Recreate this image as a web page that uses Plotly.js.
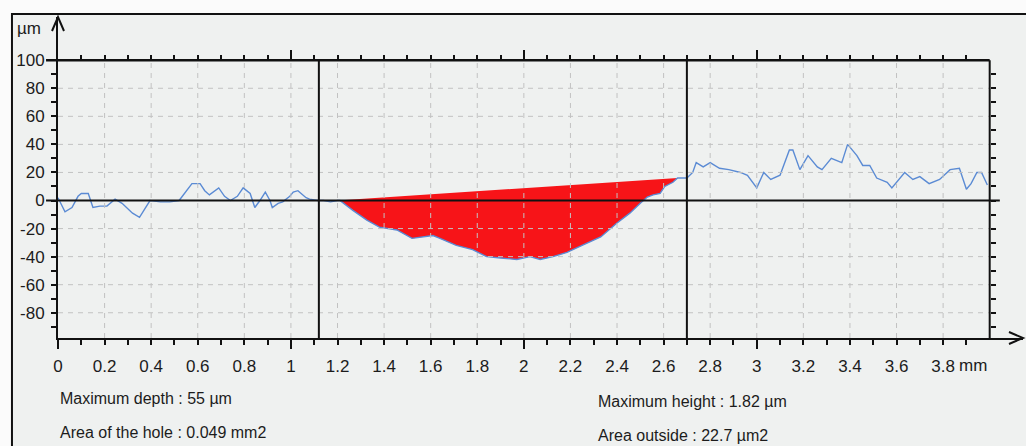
<!DOCTYPE html>
<html><head><meta charset="utf-8">
<script src="https://cdn.plot.ly/plotly-3.0.1.min.js"></script>
<style>html,body{margin:0;padding:0;background:#fbfbfb}</style>
</head><body><div id="chart" style="width:1026px;height:446px"></div>
<script>
// Profile left of the hole (mm, µm)
const leftX = [0, 0.03, 0.06, 0.086, 0.10, 0.13, 0.15, 0.18, 0.21, 0.245, 0.275, 0.30, 0.32, 0.35, 0.375, 0.395, 0.44, 0.48, 0.52, 0.55, 0.575, 0.61, 0.63, 0.65, 0.69, 0.715, 0.74, 0.77, 0.795, 0.825, 0.845, 0.867, 0.89, 0.91, 0.92, 0.945, 0.965, 0.995, 1.01, 1.03, 1.05, 1.065, 1.08, 1.115, 1.14, 1.17, 1.20];
const leftY = [2, -8, -5, 3, 5, 5, -5, -4, -4, 1, -2, -6, -9, -12, -5, 0, -1, -1, 0, 7, 12, 12, 7, 4, 9, 3, 0, 3, 9, 5, -5, 0, 6, 0, -5, -2, -1, 3, 6, 7, 4, 2, 1, 0, 0, -1, 0];
// Profile inside the hole
const holeX = [1.21, 1.266, 1.326, 1.38, 1.455, 1.52, 1.61, 1.64, 1.71, 1.78, 1.84, 1.90, 1.97, 2.026, 2.07, 2.125, 2.185, 2.25, 2.33, 2.40, 2.455, 2.50, 2.53, 2.555, 2.585, 2.605, 2.64, 2.66];
const holeY = [0, -7, -14, -19, -21, -27, -25, -27, -32, -35, -40, -41, -42, -40, -42, -40, -37, -32, -26, -16, -9, -2, 2.5, 4, 5, 10, 13, 16];
// Reference chord closing the hole
const chordX = [1.20, 2.66];
const chordY = [0, 16];
// Profile right of the hole
const rightX = [2.70, 2.725, 2.74, 2.77, 2.80, 2.84, 2.88, 2.93, 2.96, 3.00, 3.03, 3.06, 3.10, 3.14, 3.155, 3.185, 3.22, 3.26, 3.28, 3.32, 3.365, 3.39, 3.43, 3.455, 3.485, 3.515, 3.56, 3.58, 3.635, 3.67, 3.70, 3.74, 3.785, 3.83, 3.87, 3.90, 3.92, 3.945, 3.965, 3.99];
const rightY = [16, 20, 27, 24, 27, 23, 22, 20, 18, 9, 20, 15, 18, 36, 36, 22, 32, 24, 22, 30, 27, 40, 32, 25, 25, 16, 13, 9, 20, 15, 17, 12, 15, 22, 23, 8, 12, 20, 20, 11];
// Cursor positions (mm)
const cursorX = [1.12, 2.70];
// Tick labels
const xTickVals = [0, 0.2, 0.4, 0.6, 0.8, 1, 1.2, 1.4, 1.6, 1.8, 2, 2.2, 2.4, 2.6, 2.8, 3, 3.2, 3.4, 3.6, 3.8];
const xTickText = ['0', '0.2', '0.4', '0.6', '0.8', '1', '1.2', '1.4', '1.6', '1.8', '2', '2.2', '2.4', '2.6', '2.8', '3', '3.2', '3.4', '3.6', '3.8'];
const yTickVals = [-80, -60, -40, -20, 0, 20, 40, 60, 80, 100];
const yTickText = ['-80', '-60', '-40', '-20', '0', '20', '40', '60', '80', '100'];
const xUnit = 'mm';
const yUnit = 'µm';
const infoLeft = ['Maximum depth : 55 µm', 'Area of the hole : 0.049 mm2'];
const infoRight = ['Maximum height : 1.82 µm', 'Area outside : 22.7 µm2'];

// ---- layout geometry ----
const yMin = -98, yMax = 130.8, xMax = 4.143, borderX = 4.0, topY = 100;
const ink = '#111';
const tenths = [];
for (let i = 1; i < 40; i++) tenths.push(+(i / 10).toFixed(1));
const minorX = tenths.filter(v => Math.abs(v * 5 - Math.round(v * 5)) > 1e-6);
const topMinor = tenths.filter(v => Math.abs(v - Math.round(v)) > 1e-6);
const minorY = [];
for (let v = -90; v < 100; v += 20) minorY.push(v);
const rightTicks = [];
for (let v = -90; v < 100; v += 10) rightTicks.push(v);

const profX = leftX.concat(holeX, rightX);
const profY = leftY.concat(holeY, rightY);
const fillX = [chordX[0]].concat(holeX, [chordX[1]]);
const fillY = [chordY[0]].concat(holeY, [chordY[1]]);

const traces = [
  {x: fillX, y: fillY, type: 'scatter', mode: 'lines', fill: 'toself', fillcolor: '#f71418', line: {width: 0, color: '#f71418'}, hoverinfo: 'skip'},
  {x: profX, y: profY, type: 'scatter', mode: 'lines', line: {color: '#5b8bd4', width: 1.4}, hoverinfo: 'skip'},
  {x: [null], y: [null], xaxis: 'x2', yaxis: 'y2', type: 'scatter', mode: 'lines', hoverinfo: 'skip'},
  {x: [null], y: [null], xaxis: 'x3', yaxis: 'y', type: 'scatter', mode: 'lines', hoverinfo: 'skip'}
];

const shapes = [];
// panel frame
shapes.push({type: 'rect', xref: 'paper', yref: 'paper', x0: -0.0477, x1: 1.03, y0: -0.4, y1: 1.0093, layer: 'below', fillcolor: '#eff1f0', line: {color: '#111', width: 2}});
// dashed grid
const gridLine = {color: '#c2c2c2', width: 1, dash: '5px,5px'};
xTickVals.filter(v => v > 0).forEach(v => shapes.push({type: 'line', xref: 'x', yref: 'y', x0: v, x1: v, y0: yMin, y1: topY, line: gridLine, layer: 'above'}));
yTickVals.filter(v => v !== 0 && v < topY).forEach(v => shapes.push({type: 'line', xref: 'x', yref: 'y', x0: 0, x1: borderX, y0: v, y1: v, line: gridLine, layer: 'above'}));
// top border and zero line (extend left of axis like long ticks)
shapes.push({type: 'line', xref: 'paper', yref: 'y', x0: -0.0124, x1: borderX / xMax, y0: topY, y1: topY, line: {color: ink, width: 2.5}});
shapes.push({type: 'line', xref: 'paper', yref: 'y', x0: -0.0124, x1: 0.976, y0: 0, y1: 0, line: {color: ink, width: 2}});
// right border
shapes.push({type: 'line', xref: 'x', yref: 'y', x0: borderX, x1: borderX, y0: yMin, y1: topY, line: {color: ink, width: 2}});
// cursors
cursorX.forEach(c => shapes.push({type: 'line', xref: 'x', yref: 'y', x0: c, x1: c, y0: yMin, y1: topY, line: {color: ink, width: 2}}));
// axis arrow heads
shapes.push({type: 'path', xref: 'paper', yref: 'paper', xsizemode: 'pixel', ysizemode: 'pixel', xanchor: 0, yanchor: 1, path: 'M -6 -14 L 0 0 L 6 -14', line: {color: ink, width: 2}});
shapes.push({type: 'path', xref: 'paper', yref: 'paper', xsizemode: 'pixel', ysizemode: 'pixel', xanchor: 1, yanchor: 0, path: 'M -14 6 L 0 0 L -14 -6', line: {color: ink, width: 2}});

const textFont = {family: 'Liberation Sans, Arial, sans-serif', size: 16, color: '#1c1c1c'};
const annotations = [
  {xref: 'paper', yref: 'paper', x: -0.0446, y: 0.9657, xanchor: 'left', yanchor: 'middle', text: yUnit, showarrow: false, font: {size: 17}},
  {xref: 'x', yref: 'paper', x: 3.8, xshift: 14, y: -0.086, xanchor: 'left', yanchor: 'middle', text: xUnit, showarrow: false, font: {size: 17}},
  {xref: 'paper', yref: 'paper', x: 0, y: -0.187, xanchor: 'left', yanchor: 'middle', text: infoLeft[0], showarrow: false, font: textFont},
  {xref: 'paper', yref: 'paper', x: 0, y: -0.293, xanchor: 'left', yanchor: 'middle', text: infoLeft[1], showarrow: false, font: textFont},
  {xref: 'paper', yref: 'paper', x: 0.558, y: -0.199, xanchor: 'left', yanchor: 'middle', text: infoRight[0], showarrow: false, font: textFont},
  {xref: 'paper', yref: 'paper', x: 0.558, y: -0.305, xanchor: 'left', yanchor: 'middle', text: infoRight[1], showarrow: false, font: textFont}
];

const tickStyle = {ticks: 'outside', tickwidth: 2, tickcolor: ink};
const layout = {
  width: 1026, height: 446,
  margin: {l: 58, r: 3, t: 17, b: 108},
  paper_bgcolor: '#fbfbfb', plot_bgcolor: 'rgba(0,0,0,0)',
  showlegend: false,
  font: {family: 'Liberation Sans, Arial, sans-serif', size: 17, color: '#1c1c1c'},
  xaxis: Object.assign({range: [0, xMax], showgrid: false, zeroline: false, showline: true, linecolor: ink, linewidth: 2,
    tickmode: 'array', tickvals: xTickVals, ticktext: xTickText, ticklen: 5, ticklabelstandoff: 7,
    minor: {tickmode: 'array', tickvals: minorX, ticks: 'outside', ticklen: 5, tickwidth: 2, tickcolor: ink, showgrid: false}}, tickStyle),
  xaxis2: Object.assign({overlaying: 'x', anchor: 'free', position: (topY - yMin) / (yMax - yMin), side: 'top', range: [0, xMax],
    showgrid: false, zeroline: false, showline: false, showticklabels: false, tickmode: 'array', tickvals: [1, 2, 3], ticklen: 10,
    minor: {tickmode: 'array', tickvals: topMinor, ticks: 'outside', ticklen: 5, tickwidth: 2, tickcolor: ink, showgrid: false}}, tickStyle),
  xaxis3: Object.assign({overlaying: 'x', anchor: 'y', side: 'bottom', range: [0, xMax], showgrid: false, zeroline: false, showline: false,
    showticklabels: false, tickmode: 'array', tickvals: [0, 1, 2, 3], ticklen: 10}, tickStyle),
  yaxis: Object.assign({range: [yMin, yMax], showgrid: false, zeroline: false, showline: true, linecolor: ink, linewidth: 2,
    tickmode: 'array', tickvals: yTickVals, ticktext: yTickText, ticklen: 5, ticklabelstandoff: 3,
    minor: {tickmode: 'array', tickvals: minorY, ticks: 'outside', ticklen: 5, tickwidth: 2, tickcolor: ink, showgrid: false}}, tickStyle),
  yaxis2: Object.assign({overlaying: 'y', anchor: 'free', position: borderX / xMax, side: 'right', range: [yMin, yMax],
    showgrid: false, zeroline: false, showline: false, showticklabels: false, tickmode: 'array', tickvals: rightTicks, ticklen: 5}, tickStyle),
  shapes: shapes,
  annotations: annotations
};

Plotly.newPlot('chart', traces, layout, {staticPlot: true, displayModeBar: false});
</script></body></html>
